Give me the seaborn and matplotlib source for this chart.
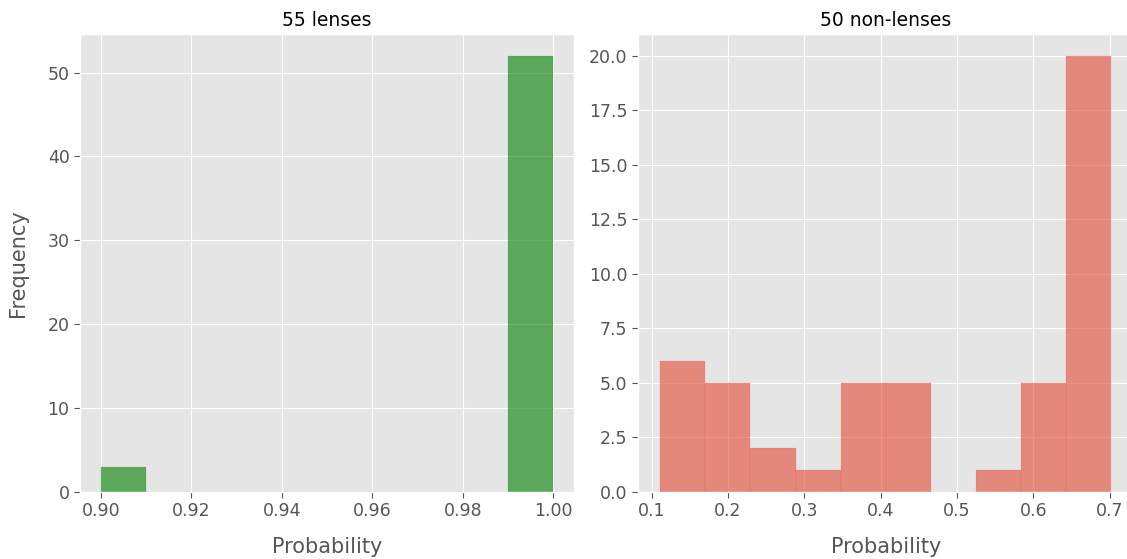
import matplotlib
matplotlib.use("Agg")
import matplotlib.pyplot as plt
import numpy as np
import pandas as pd
import seaborn as sns

# Classifier probabilities, binned into 10 equal-width bins per class
lens_range = (0.900, 1.000)
lens_counts = [3, 0, 0, 0, 0, 0, 0, 0, 0, 52]

nonlens_range = (0.1112, 0.7020)
nonlens_counts = [6, 5, 2, 1, 5, 5, 0, 1, 5, 20]

lens_title = "55 lenses"
nonlens_title = "50 non-lenses"


def centers(rng, n):
    edges = np.linspace(rng[0], rng[1], n + 1)
    return (edges[:-1] + edges[1:]) / 2


lens_df = pd.DataFrame({"p": centers(lens_range, len(lens_counts)), "n": lens_counts})
nonlens_df = pd.DataFrame({"p": centers(nonlens_range, len(nonlens_counts)), "n": nonlens_counts})

plt.style.use("ggplot")
W, H = 1127, 559
fig = plt.figure(figsize=(W / 100, H / 100), dpi=100)
ax1 = fig.add_axes([80 / W, (H - 491.7) / H, 494 / W, 457.7 / H])
ax2 = fig.add_axes([637.7 / W, (H - 491.7) / H, 496 / W, 457.7 / H])

green = "green"
red = "#E24A33"

sns.histplot(data=lens_df, x="p", weights="n", bins=10, binrange=lens_range,
             color=green, alpha=0.6, edgecolor=green, linewidth=0.25, ax=ax1)
sns.histplot(data=nonlens_df, x="p", weights="n", bins=10, binrange=nonlens_range,
             color=red, alpha=0.6, edgecolor=red, linewidth=0.25, ax=ax2)
for ax in (ax1, ax2):
    for patch in ax.patches:
        patch.set_edgecolor((*matplotlib.colors.to_rgb(patch.get_facecolor()), 0.35))

ax1.set_xlim(0.8954, 1.0046)
ax1.set_ylim(0, 54.6)
ax1.set_xticks(np.arange(0.90, 1.001, 0.02))
ax1.set_xticklabels([f"{v:.2f}" for v in np.arange(0.90, 1.001, 0.02)])
ax1.set_yticks(range(0, 51, 10))

lo, hi = nonlens_range
m = (hi - lo) * 0.05
ax2.set_xlim(lo - m, hi + m)
ax2.set_ylim(0, 21)
ax2.set_xticks(np.arange(0.1, 0.71, 0.1))
ax2.set_xticklabels([f"{v:.1f}" for v in np.arange(0.1, 0.71, 0.1)])
ax2.set_yticks(np.arange(0, 20.1, 2.5))
ax2.set_yticklabels([f"{v:.1f}" for v in np.arange(0, 20.1, 2.5)])

for ax, title in ((ax1, lens_title), (ax2, nonlens_title)):
    ax.set_title(title, fontsize=13.5, color="black", pad=6)
    ax.set_xlabel("Probability", fontsize=15, color="#555555", labelpad=12)
    ax.tick_params(labelsize=12.5, colors="#555555", labelcolor="#555555",
                   length=4, width=0.8)
    ax.grid(True, color="white")
    ax.set_axisbelow(True)

ax1.set_ylabel("Frequency", fontsize=15, color="#555555", labelpad=14)
ax2.set_ylabel("")

fig.savefig("out.png", dpi=100)
